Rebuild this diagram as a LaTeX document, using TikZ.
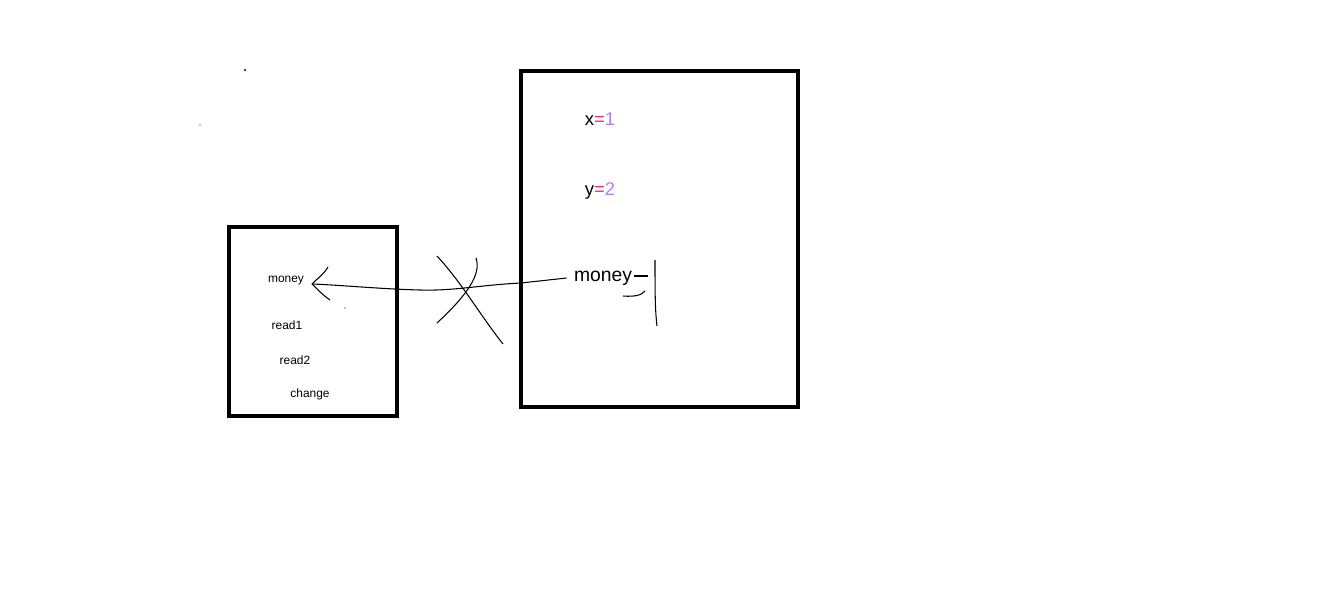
\documentclass[tikz,border=0pt]{standalone}
\usepackage{fontspec}
\setmainfont{Liberation Sans}
\usetikzlibrary{arrows.meta}
\definecolor{eqpink}{RGB}{240,40,110}
\definecolor{numviolet}{RGB}{180,125,250}
\begin{document}
\begin{tikzpicture}[x=0.02cm,y=-0.02cm]
    \useasboundingbox (0,0) rectangle (1321,611);
    \fill[white] (0,0) rectangle (1321,611);
    % two frames
    \draw [line width=2.8pt] (229,227) rectangle (397,416);
    \draw [line width=2.8pt] (521,71) rectangle (798,407);
    % left frame
    \node [font=\fontsize{6.8}{8}\selectfont,inner sep=0pt] (smoney) at (286,281) {money};
    \node [font=\fontsize{6.8}{8}\selectfont,inner sep=0pt] (read1) at (287,325) {read1};
    \node [font=\fontsize{6.8}{8}\selectfont,inner sep=0pt] (read2) at (295,360) {read2};
    \node [font=\fontsize{6.8}{8}\selectfont,inner sep=0pt] (change) at (310,394) {change};
    % right frame
    \node [font=\fontsize{10.5}{12}\selectfont,inner sep=0pt] (xval) at (600,119)
      {x\textcolor{eqpink}{=}\textcolor{numviolet}{1}};
    \node [font=\fontsize{10.5}{12}\selectfont,inner sep=0pt] (yval) at (600,191)
      {y\textcolor{eqpink}{=}\textcolor{numviolet}{2}};
    \node [font=\fontsize{11}{13}\selectfont,inner sep=0pt] (bmoney) at (603,278) {money};
    \coordinate (tip) at (312,284);
    \draw [line width=0.6pt]
      ([xshift=-4pt]bmoney.west) -- (521,283)
      .. controls (480,285) and (455,291) .. (420,290)
      .. controls (380,289) and (340,285) .. (tip);
    \draw [line width=0.6pt]
      (328,267) .. controls (324,274) and (318,278) .. (tip)
      .. controls (318,290) and (324,296) .. (330,300);
    \fill (345,308) circle (0.6);
    % crossed out
    \draw [line width=0.6pt] (437,256) .. controls (462,283) and (480,315) .. (503,344);
    \draw [line width=0.6pt] (476,258) .. controls (482,275) and (465,297) .. (437,323);
    % marks beside money
    \draw [line width=0.6pt] (634,276) -- (648,276);
    \draw [line width=0.6pt] (623,296) .. controls (635,297) and (642,295) .. (645,291);
    \draw [line width=0.6pt] (655,260) .. controls (655,290) and (655,310) .. (657,326);
    % stray dots
    \fill (245,70) circle (1.2);
    \fill (200,125) circle (0.6);
\end{tikzpicture}
\end{document}
